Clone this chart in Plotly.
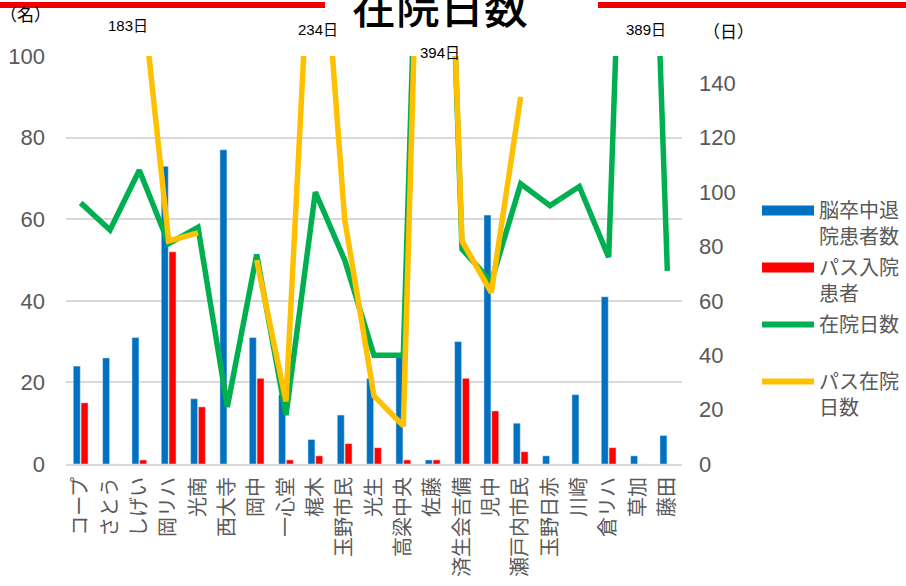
import plotly.graph_objects as go

categories = ["コープ", "さとう", "しげい", "岡リハ", "光南", "西大寺", "岡中", "一心堂", "梶木", "玉野市民",
              "光生", "高梁中央", "佐藤", "済生会吉備", "児中", "瀬戸内市民", "玉野日赤", "川崎", "倉リハ", "草加", "藤田"]
discharged = [24, 26, 31, 73, 16, 77, 31, 17, 6, 12, 21, 27, 1, 30, 61, 10, 2, 17, 41, 2, 7]
path_patients = [15, 0, 1, 52, 14, 0, 21, 1, 2, 5, 4, 1, 1, 21, 13, 3, 0, 0, 4, 0, 0]
stay_days = [96, 86, 108, 81, 87, 21, 77, 18, 100, 75, 40, 40, 394, 79, 67, 103, 95, 102, 76, 389, 71]
path_stay_days = [None, None, 183, 82, 85, None, 75, 23, 234, 90, 25, 14, 394, 82, 63, 135,
                  None, None, None, None, None]
overflow_labels = [("しげい", "183日", -11, 25), ("梶木", "234日", 3, 29),
                   ("佐藤", "394日", 7, 52), ("草加", "389日", 8, 29)]

names = ["脳卒中退<br>院患者数", "パス入院<br>患者", "在院日数<br> ", "パス在院<br>日数"]
BLUE, RED, GREEN, YELLOW = "#0070C0", "#FF0000", "#00B050", "#FFC000"
FONT = "Arial, 'Liberation Sans', 'Noto Sans CJK JP', sans-serif"
GREY = "#595959"

W, H = 906, 586
L, R, T, B = 66, 682, 56, 464
def px(xp): return (xp - L) / (R - L)
def py(yp): return (B - yp) / (B - T)

fig = go.Figure()
fig.add_trace(go.Bar(x=categories, y=discharged, marker_color=BLUE, name=names[0], showlegend=False))
fig.add_trace(go.Bar(x=categories, y=path_patients, marker_color=RED, name=names[1], showlegend=False))
fig.add_trace(go.Scatter(x=categories, y=stay_days, mode="lines", yaxis="y2",
                         line=dict(color=GREEN, width=5.5), name=names[2], showlegend=False))
fig.add_trace(go.Scatter(x=categories, y=path_stay_days, mode="lines", yaxis="y2",
                         line=dict(color=YELLOW, width=5.5), name=names[3], showlegend=False))

# legend entries
for nm, col, w in zip(names, [BLUE, RED, GREEN, YELLOW], [10, 10, 6, 6]):
    fig.add_trace(go.Scatter(x=[None], y=[None], mode="lines", name=nm,
                             line=dict(color=col, width=w), legendgroup=nm))

annotations = []
for cat, txt, xs, ypx in overflow_labels:
    annotations.append(dict(x=cat, xref="x", xshift=xs, y=py(ypx), yref="paper", text=txt,
                            showarrow=False, font=dict(size=15, color="#000000", family=FONT),
                            xanchor="center", yanchor="middle"))
annotations.append(dict(x=px(440), y=py(5), xref="paper", yref="paper", text="在院日数",
                        showarrow=False,
                        font=dict(size=44, color="#000000", family="'Noto Sans CJK JP', sans-serif",
                                  weight=500),
                        xanchor="center", yanchor="middle"))
annotations.append(dict(x=px(25), y=py(16), xref="paper", yref="paper", text="（名）",
                        showarrow=False, font=dict(size=17, color="#000000", family=FONT),
                        xanchor="center", yanchor="middle"))
annotations.append(dict(x=px(728), y=py(33), xref="paper", yref="paper", text="（日）",
                        showarrow=False, font=dict(size=17, color="#000000", family=FONT),
                        xanchor="center", yanchor="middle"))

shapes = [
    dict(type="line", xref="paper", yref="paper", x0=px(0), x1=px(325), y0=py(5), y1=py(5),
         line=dict(color="#EE0000", width=6)),
    dict(type="line", xref="paper", yref="paper", x0=px(598), x1=px(906), y0=py(5), y1=py(5),
         line=dict(color="#EE0000", width=6)),
]

fig.update_layout(
    width=W, height=H,
    margin=dict(l=L, r=W - R, t=T, b=H - B, autoexpand=False),
    paper_bgcolor="white", plot_bgcolor="white",
    font=dict(family=FONT, color=GREY),
    barmode="group", bargap=0.47, bargroupgap=0.1,
    xaxis=dict(type="category", tickangle=-90, tickfont=dict(size=20, color=GREY),
               showline=True, linecolor="#D9D9D9", linewidth=2, ticks="", showgrid=False,
               ticklabelstandoff=3),
    yaxis=dict(range=[0, 100], dtick=20, tickfont=dict(size=22, color=GREY),
               showgrid=True, gridcolor="#D9D9D9", gridwidth=2, zeroline=False,
               showline=False, ticks="", ticklabelstandoff=20),
    yaxis2=dict(range=[0, 150], tickvals=[0, 20, 40, 60, 80, 100, 120, 140], overlaying="y",
                side="right", showgrid=False, zeroline=False, showline=False,
                tickfont=dict(size=22, color=GREY), ticks="", ticklabelstandoff=16),
    legend=dict(x=px(757), y=py(191), xanchor="left", yanchor="top", valign="top",
                font=dict(size=20, color=GREY, family=FONT), itemwidth=52,
                tracegroupgap=2, bgcolor="rgba(0,0,0,0)"),
    annotations=annotations, shapes=shapes,
)

fig.write_html("out.html", config={"displayModeBar": False},
               post_script="document.body.style.margin='0';")
